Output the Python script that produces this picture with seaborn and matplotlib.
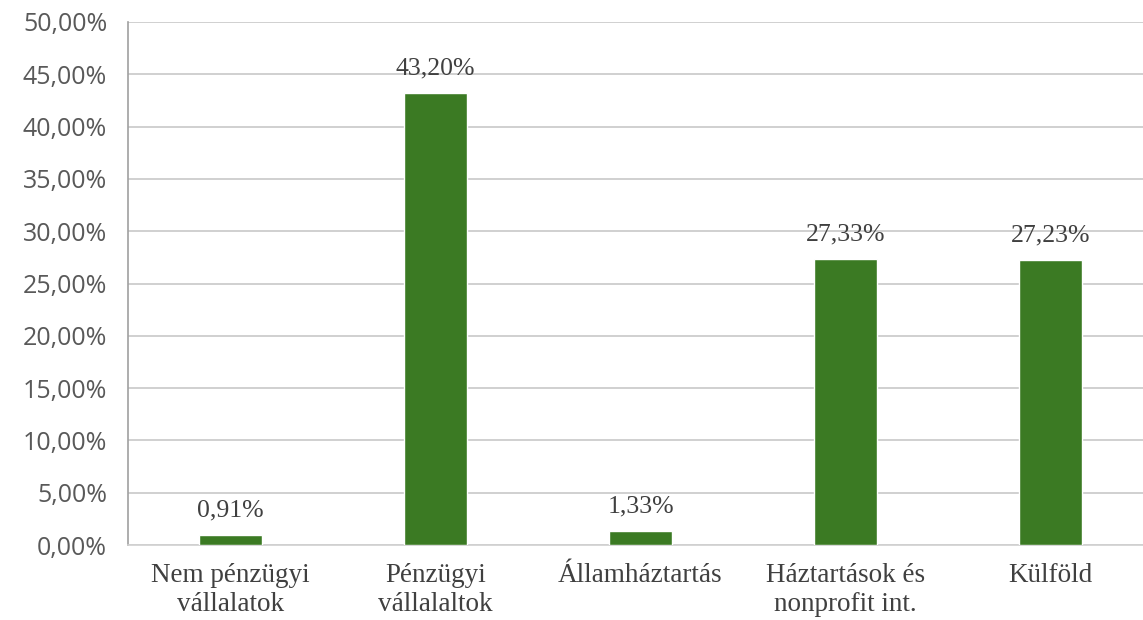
import matplotlib
matplotlib.use("Agg")
import matplotlib.pyplot as plt
import seaborn as sns
import pandas as pd

# Data
categories = ["Nem pénzügyi\nvállalatok", "Pénzügyi\nvállalaltok", "Államháztartás",
              "Háztartások és\nnonprofit int.", "Külföld"]
shares = [0.91, 43.20, 1.33, 27.33, 27.23]
y_ticks = [0, 5, 10, 15, 20, 25, 30, 35, 40, 45, 50]

def fmt(v):
    return f"{v:.2f}".replace(".", ",") + "%"

sns.set_style("white")
df = pd.DataFrame({"cat": categories, "val": shares})

fig = plt.figure(figsize=(11.43, 6.2), dpi=100)
ax = fig.add_axes([128 / 1143, 1 - 545 / 620, (1153 - 128) / 1143, (545 - 22) / 620])

sns.barplot(data=df, x="cat", y="val", color="#3b7a23", width=0.31,
            saturation=1, ax=ax, zorder=3)

ax.set_ylim(0, 50)
ax.set_xlim(-0.5, 4.5)
ax.set_yticks(y_ticks)
ax.set_yticklabels([fmt(t) for t in y_ticks], family="Open Sans",
                   fontsize=18, color="#595959")
ax.set_xticks(range(len(categories)))
ax.set_xticklabels(categories, family="Liberation Serif", fontsize=19.5,
                   color="#404040", linespacing=1.2)
ax.tick_params(axis="y", length=0, pad=15)
ax.tick_params(axis="x", length=0, pad=13)
ax.set_xlabel("")
ax.set_ylabel("")

ax.grid(axis="y", color="#c8c8c8", linewidth=1.2, zorder=0)
for s in ["top", "right"]:
    ax.spines[s].set_visible(False)
ax.spines["left"].set_color("#a0a0a0")
ax.spines["bottom"].set_color("#d0d0d0")
ax.spines["left"].set_linewidth(1.2)
ax.spines["bottom"].set_linewidth(1.2)

for i, v in enumerate(shares):
    ax.text(i, v + 1.3, fmt(v), ha="center", va="bottom", family="Liberation Serif",
            fontsize=18.5, color="#404040")

fig.savefig("out.png", dpi=100)
